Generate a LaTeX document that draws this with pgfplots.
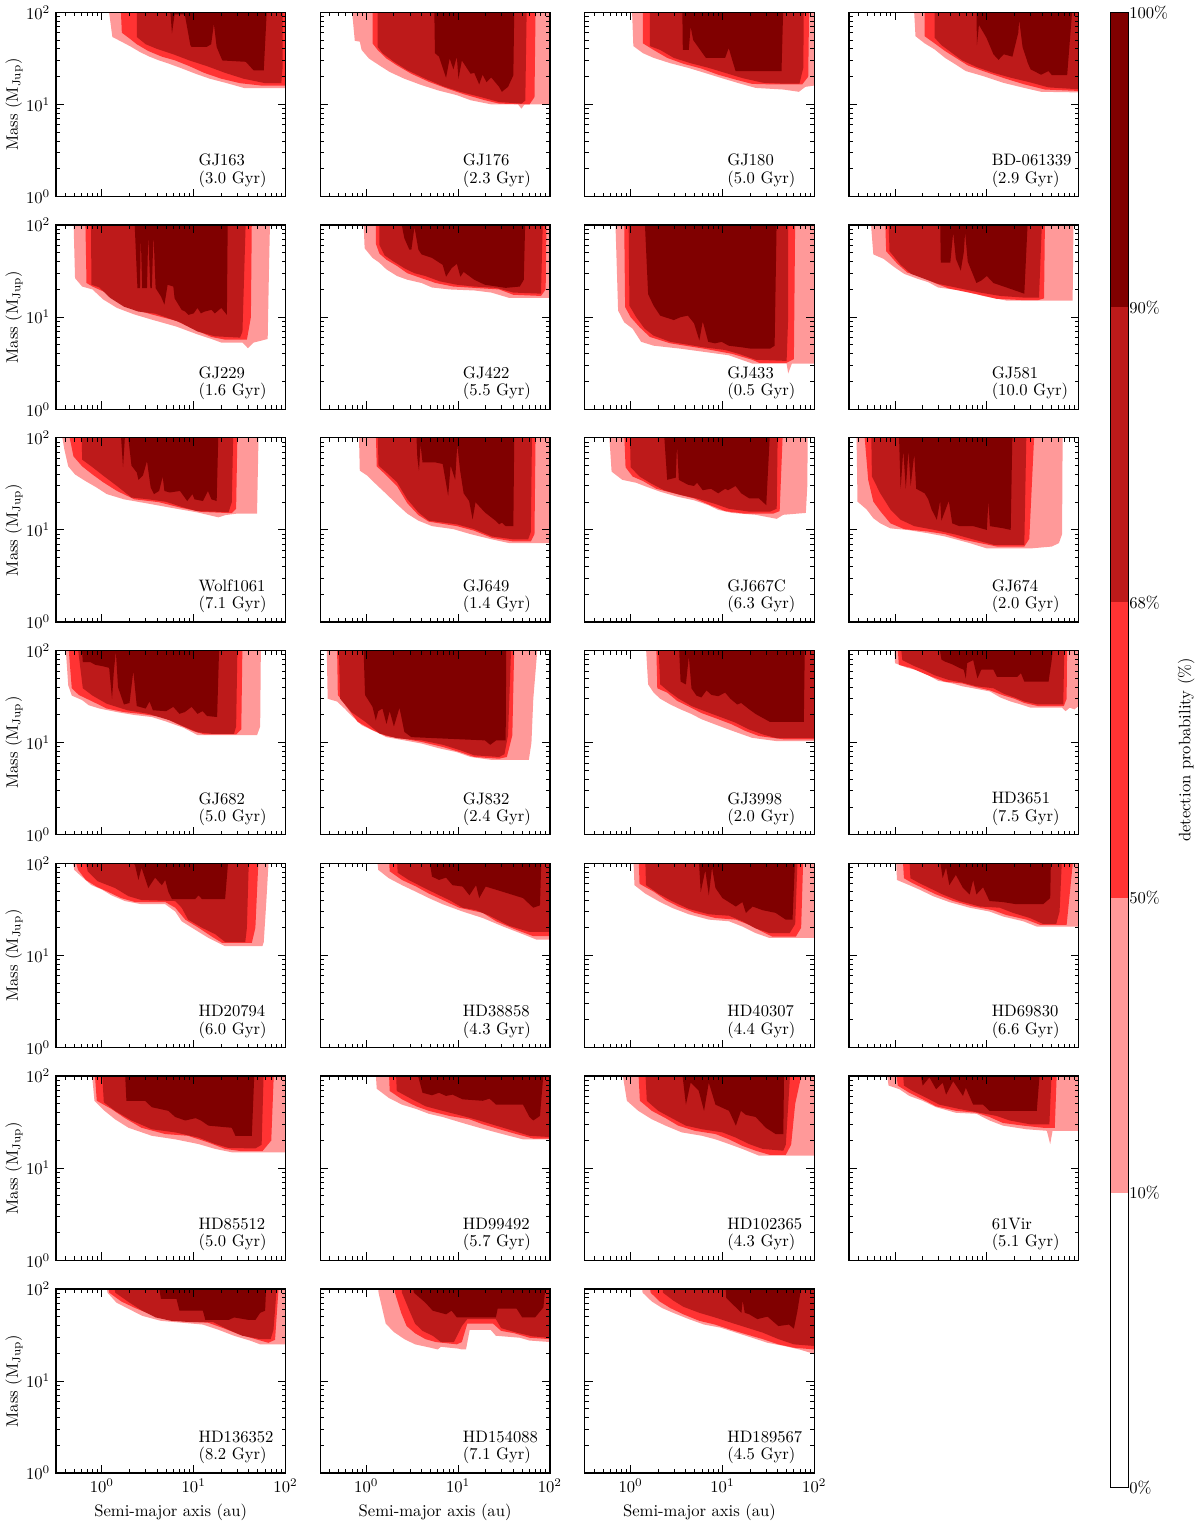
\documentclass[border=0pt]{standalone}
\usepackage{pgfplots}
\pgfplotsset{compat=1.18}
\usepgfplotslibrary{groupplots}
\usetikzlibrary{calc}
\definecolor{lvA}{HTML}{FF9999}
\definecolor{lvB}{HTML}{FF3333}
\definecolor{lvC}{HTML}{BD1A1A}
\definecolor{lvD}{HTML}{800000}

\pgfplotsset{
  fa/.style={fill=lvA, draw=none},
  fb/.style={fill=lvB, draw=none},
  fc/.style={fill=lvC, draw=none},
  fd/.style={fill=lvD, draw=none},
}
% star name and age, lower right of each panel
\newcommand{\lab}[2]{\node[anchor=west, align=left, inner sep=0pt] at (rel axis cs:0.62,0.14) {#1\\[-1.5pt](#2 Gyr)};}

\begin{document}
\begin{tikzpicture}
\begin{groupplot}[
  group style={group name=G, group size=4 by 7, horizontal sep=21pt, vertical sep=17.2pt,
    xticklabels at=edge bottom, yticklabels at=edge left, xlabels at=edge bottom, ylabels at=edge left},
  width=138.3pt, height=111pt, scale only axis,
  xmode=log, ymode=log, xmin=0.316, xmax=100, ymin=1, ymax=100,
  axis on top,
  axis line style={line width=0.8pt},
  major tick length=4.8pt, minor tick length=2.4pt,
  every tick/.style={black, line width=0.6pt},
  xlabel={Semi-major axis (au)}, ylabel={Mass (M$_{\mathrm{Jup}}$)},
  every axis y label/.style={at={(axis description cs:0,0.5)}, xshift=-25.2pt, rotate=90, anchor=center},
]

% ---------------- row 1
\nextgroupplot
\addplot[fa] coordinates {(1.17,120)(1.3,54)(1.7,47)(2.1,42)(2.6,37)(3.3,33)(4.2,30)(5.2,28)(7.5,24.5)(10.5,21.5)(15,19)(23,17)(36,15)(100,15)(100,120)} -- cycle;
\addplot[fb] coordinates {(1.6,120)(1.65,60)(2.0,52)(2.4,45)(3.2,38)(4.5,33)(6.3,30)(9,26)(13,22)(20,19)(32,17)(55,16)(100,16)(100,120)} -- cycle;
\addplot[fc] coordinates {(2.4,120)(2.4,54)(3,45)(4,40)(6,35)(9,30)(14,26)(22,22)(35,19)(60,17)(90,17)(93,25)(93,120)} -- cycle;
\addplot[fd] coordinates {(5.4,120)(5.6,95)(5.8,59)(6.2,95)(8,95)(9.2,44)(9.5,42)(13.8,42)(15.5,45)(16.6,75)(17.8,42)(20.5,30)(37,29)(45,23.4)(58,23.4)(63,120)} -- cycle;
\lab{GJ163}{3.0}

\nextgroupplot
\addplot[fa] coordinates {(0.69,120)(0.75,49)(0.85,48)(0.89,39)(1.07,31.5)(1.39,26.5)(1.8,22.5)(2.6,19)(4,16.2)(6.2,14.1)(9.7,12.6)(13.7,11.1)(23,10)(45,10)(49,9)(53,10)(100,10)(100,120)} -- cycle;
\addplot[fb] coordinates {(1.17,120)(1.17,46)(1.33,39)(1.66,31.5)(2.16,26.5)(3.1,21.5)(4.8,17.6)(7.4,15)(11.5,12.9)(19.6,11.1)(28,10.2)(60,10)(68,12)(70,120)} -- cycle;
\addplot[fc] coordinates {(1.33,120)(1.33,42)(1.5,36)(2,29)(2.8,23.5)(4.4,19)(6.8,15.8)(10.5,13.7)(17.8,12)(28,10.6)(49,10.2)(54,11)(56,120)} -- cycle;
\addplot[fd] coordinates {(5.5,120)(5.6,36)(6.2,33)(7.4,19.5)(8.1,31.5)(8.9,24)(9.7,33)(10.1,19)(11,30)(13.7,21.5)(15,22)(17,16.5)(18.5,21)(20.4,17.5)(23,19.6)(28,15.5)(30,13.7)(35,15.5)(40,20.7)(41,120)} -- cycle;
\lab{GJ176}{2.3}

\nextgroupplot
\addplot[fa] coordinates {(1.03,120)(1.07,43)(1.36,36)(1.78,32)(2.7,28)(4.2,25)(6.4,22)(9.8,19.3)(15,17)(23,15.1)(46,14.5)(68,13.7)(80,15.5)(100,16)(100,120)} -- cycle;
\addplot[fb] coordinates {(1.36,120)(1.36,46)(1.78,39)(2.5,32)(3.8,27.5)(5.9,24.5)(9,21)(13.9,18.6)(21,16.7)(33,16.5)(74,16.5)(86,20)(88,120)} -- cycle;
\addplot[fc] coordinates {(1.62,120)(1.62,43)(2.1,39)(2.95,32)(4.5,28)(7,25)(10.7,22)(16.5,19.3)(27.5,17.2)(46,16.8)(69,16.8)(76,25)(77,120)} -- cycle;
\addplot[fd] coordinates {(3.65,120)(3.7,39)(4.3,39)(4.5,70)(4.8,50)(6.6,32)(10.7,32)(11.7,41)(12.7,31)(13.9,23)(44,23)(46,120)} -- cycle;
\lab{GJ180}{5.0}

\nextgroupplot
\addplot[fa] coordinates {(1.6,120)(1.67,55)(2.1,46)(2.7,39.5)(3.5,32)(4.6,27)(5.9,23)(9.1,20.3)(15.3,17.1)(25.6,15.1)(39,13.7)(100,13.5)(100,120)} -- cycle;
\addplot[fb] coordinates {(2.1,120)(2.1,55)(2.7,46)(3.5,38)(4.6,32)(6.2,26.5)(9.1,23)(15.3,19.3)(25.6,16.5)(43,14.5)(100,14)(100,120)} -- cycle;
\addplot[fc] coordinates {(2.7,120)(2.7,53)(3.2,44)(4.2,36)(5.4,30)(7.7,25.5)(11.8,22)(18.2,19.5)(30,17.3)(47,15.3)(100,14.6)(100,120)} -- cycle;
\addplot[fd] coordinates {(7.7,120)(7.8,44)(8.2,73)(9.9,53)(11.8,35)(13.4,30.5)(15.3,35)(19,33)(22,60)(22.5,83)(24.5,42)(28,28)(30,24)(39,21)(47,23)(51,20.8)(75,20.8)(86,120)} -- cycle;
\lab{BD-061339}{2.9}

% ---------------- row 2
\nextgroupplot
\addplot[fa] coordinates {(0.49,120)(0.51,26.5)(0.61,21.5)(0.79,20)(1.03,15.6)(1.46,12.6)(2.26,10.7)(3.5,9.4)(6.5,7.9)(11,6.5)(15.6,5.8)(20,5.3)(34,5.3)(39,4.6)(45,5.3)(56,5.6)(64,5.8)(66,30)(68,120)} -- cycle;
\addplot[fb] coordinates {(0.66,120)(0.68,23.5)(0.79,21.5)(1.13,18.3)(1.6,14.2)(2.26,12.1)(3.5,10.7)(6.5,9.1)(10,7.4)(15.6,6.1)(22,5.7)(38,5.7)(42,10)(43,120)} -- cycle;
\addplot[fc] coordinates {(0.76,120)(0.77,22.5)(0.94,21)(1.23,16.2)(1.74,13)(2.5,11.5)(3.85,10.9)(7.1,8.8)(11,7)(17,6.2)(32,6.0)(34,7)(37,120)} -- cycle;
\addplot[fd] coordinates {(2.26,120)(2.44,20.7)(2.6,20.7)(2.65,80)(2.75,20.7)(3.1,20.7)(3.2,80)(3.37,20.7)(3.5,20.7)(3.65,80)(3.85,20.7)(4.4,16.8)(4.8,13.7)(5.2,22.5)(6,21.5)(6.2,16)(7.4,12)(8.1,11.5)(8.8,10.6)(10,11)(11,12.6)(12,11)(13.1,11.5)(15.6,12)(17,11)(20,12.6)(23,10.6)(23.5,120)} -- cycle;
\lab{GJ229}{1.6}

\nextgroupplot
\addplot[fa] coordinates {(0.93,120)(0.96,56)(1.07,49)(1.17,44)(1.39,39)(1.66,33)(2.16,28)(2.8,25.5)(4,23.5)(5.2,21)(8.1,20)(15,19.5)(23,18.5)(36,16.2)(100,16.2)(100,120)} -- cycle;
\addplot[fb] coordinates {(1.27,120)(1.27,63)(1.39,49)(1.66,42)(2.16,36)(2.8,30)(4,26.5)(5.7,23.5)(8.9,21.5)(15,20.8)(28,20)(40,17.5)(80,17)(90,20)(92,120)} -- cycle;
\addplot[fc] coordinates {(1.39,120)(1.39,61)(1.58,47)(2,40)(2.6,34)(3.35,30)(4.4,28)(6.3,24.5)(9.7,22.5)(15,21.5)(26,20.8)(40,18.5)(80,18)(84,120)} -- cycle;
\addplot[fd] coordinates {(2.35,120)(2.6,72)(2.95,54)(3.1,54)(3.35,95)(3.7,54)(4,48)(5.2,44)(6.8,37)(7.4,27.5)(8.5,34)(9.7,38)(10.6,27.5)(11.5,31)(15,25.5)(19.6,22.5)(33,20.8)(47,21.5)(52,25.5)(54,120)} -- cycle;
\lab{GJ422}{5.5}

\nextgroupplot
\addplot[fa] coordinates {(0.68,120)(0.73,11.8)(0.85,8.8)(1.05,7.5)(1.3,5.4)(1.78,4.9)(3.5,4.55)(6.3,4.2)(11.7,3.86)(21.3,3.13)(50,3.13)(52,2.45)(57,3.13)(100,3.13)(100,120)} -- cycle;
\addplot[fb] coordinates {(0.85,120)(0.87,12.9)(1,10)(1.25,7.8)(1.62,6.1)(2.7,5.2)(6.3,4.55)(12.7,4)(21,3.45)(25,3.2)(50,3.2)(60,3.5)(62,120)} -- cycle;
\addplot[fc] coordinates {(0.95,120)(0.97,13.3)(1.15,10)(1.42,7.5)(1.78,6.3)(2.7,5.4)(6.3,4.7)(10.7,4.4)(15,4)(23,3.45)(50,3.35)(52,10)(52,120)} -- cycle;
\addplot[fd] coordinates {(1.42,120)(1.55,17.8)(1.78,13.3)(2.1,10.4)(2.95,9.3)(3.5,10)(4.2,10.4)(4.9,8.6)(5.6,5.6)(6.1,9)(7,5.4)(8.3,5.2)(9.8,5.4)(11.7,4.9)(16.5,4.7)(20.4,4.55)(33,4.55)(37,4.9)(39,120)} -- cycle;
\lab{GJ433}{0.5}

\nextgroupplot
\addplot[fa] coordinates {(0.54,120)(0.58,48)(0.75,43)(0.98,35)(1.26,29.5)(1.78,26)(2.3,24)(2.95,21)(5.4,19.4)(9.1,17)(16.6,15.1)(86,15.1)(88,120)} -- cycle;
\addplot[fb] coordinates {(0.78,120)(0.8,52)(1.06,38)(1.36,30.5)(1.93,27.5)(2.7,23.5)(3.85,20.5)(7.7,17.8)(12.9,15.8)(25.6,15.3)(36,15.3)(42,16)(43,120)} -- cycle;
\addplot[fc] coordinates {(0.85,120)(0.87,52)(1.15,37)(1.5,29.5)(2.1,26)(2.95,23)(4.6,21)(8.4,18.5)(14,17)(25.6,16.3)(37,16.3)(40,120)} -- cycle;
\addplot[fd] coordinates {(3.1,120)(3.15,39)(4,39)(4.3,83)(4.6,43)(5.2,32)(5.6,50)(5.8,83)(6.2,40)(7.7,23.5)(8.7,25)(10,28)(11.8,23.5)(15.3,21.5)(25.6,18)(28,120)} -- cycle;
\lab{GJ581}{10.0}

% ---------------- row 3
\nextgroupplot
\addplot[fa] coordinates {(0.36,120)(0.39,75)(0.43,49)(0.51,40)(0.66,34)(0.87,29)(1.13,24.5)(1.74,21.5)(3.5,19)(5.5,17.5)(11,15.5)(18.6,13.7)(22.2,14.5)(29,15)(49,15)(51,120)} -- cycle;
\addplot[fb] coordinates {(0.43,120)(0.49,63)(0.61,49)(0.79,40)(1.03,33)(1.46,26.5)(2.26,21.5)(4.2,20)(7.1,17.5)(12,15.7)(26,15.2)(29,17)(30,120)} -- cycle;
\addplot[fc] coordinates {(0.6,120)(0.61,58)(0.79,48)(1.03,39)(1.46,30)(2.1,22.5)(3.2,21.5)(5,20.2)(7.8,17.5)(11,16)(24,15.6)(26,20)(27,120)} -- cycle;
\addplot[fd] coordinates {(1.6,120)(1.7,48)(1.8,120)(1.9,120)(2.1,50)(2.4,42)(2.5,35)(2.8,39)(3.1,56)(3.4,29)(3.7,24.5)(4.2,26.5)(4.6,38)(4.8,26.5)(5.5,25.5)(7.1,26.5)(8.5,20.6)(9.7,24.5)(10.2,21.5)(12.6,20.6)(14.3,26.5)(15.6,21.5)(17.8,20.6)(18.6,120)} -- cycle;
\lab{Wolf1061}{7.1}

\nextgroupplot
\addplot[fa] coordinates {(0.83,120)(0.85,44)(1.02,39)(1.27,31.5)(1.66,24.5)(2.16,19)(2.8,15)(3.7,12.6)(5.2,11)(8.9,10.2)(13.7,9)(23.4,7.9)(36,7.2)(100,7.2)(100,120)} -- cycle;
\addplot[fb] coordinates {(1.27,120)(1.3,49)(1.66,39)(2.16,30)(2.8,19.5)(3.7,14.5)(4.8,12.3)(9.7,11)(15,9.8)(23.4,8.2)(40,7.5)(62,7.5)(68,9)(70,120)} -- cycle;
\addplot[fc] coordinates {(1.33,120)(1.36,50)(1.66,42)(2.16,33)(2.8,21.5)(3.7,15.5)(4.8,12.6)(9.7,11.5)(15,10.2)(23.4,8.5)(40,7.9)(58,7.9)(62,9.5)(64,120)} -- cycle;
\addplot[fd] coordinates {(3.5,120)(3.6,61)(3.75,44)(3.9,85)(4.1,54)(5.7,54)(6.8,52)(7.8,23.5)(8.3,50)(9.3,35)(9.8,85)(10.5,45)(11.5,25)(13.2,20.6)(14.4,13)(15.5,20)(19.6,15.5)(25.6,12.6)(28,11.5)(30,12)(33,11)(40,11)(41,120)} -- cycle;
\lab{GJ649}{1.4}

\nextgroupplot
\addplot[fa] coordinates {(0.58,120)(0.62,43)(0.81,35)(1.15,32.5)(1.48,29.5)(2.1,26)(3.2,23)(4.9,21)(7,18.6)(9,16.5)(12.7,15.3)(23,14.6)(39,13.2)(46,14.6)(81,15.3)(84,30)(85,120)} -- cycle;
\addplot[fb] coordinates {(0.85,120)(0.88,48)(1.05,38)(1.36,34)(1.9,28)(2.95,25)(4.9,22)(7.6,18.3)(10.7,16)(17.8,15)(35.5,15)(42,16)(45.5,120)} -- cycle;
\addplot[fc] coordinates {(0.98,120)(1.0,48)(1.25,38)(1.62,32.5)(2.3,27)(3.5,24)(5.4,21.8)(8.3,19.2)(11.7,17)(19.6,15.8)(33,15.8)(39,17)(40,120)} -- cycle;
\addplot[fd] coordinates {(2.3,120)(2.5,35)(2.8,36)(3.1,37)(3.2,83)(3.35,35)(4.2,31)(4.9,30)(5.3,32.5)(6.1,27)(7.5,28)(9,25)(10.7,28)(11.5,27)(13.9,30)(16,25)(19.6,22)(25,22)(30,18.6)(33,120)} -- cycle;
\lab{GJ667C}{6.3}

\nextgroupplot
\addplot[fa] coordinates {(0.38,120)(0.39,20.3)(0.49,16.7)(0.58,13.4)(0.69,11.8)(0.89,10.4)(1.36,10)(2.3,9.2)(3.5,8.5)(4.6,7.9)(6.5,7.2)(10,6.3)(30,6.3)(51,6.6)(61,7.2)(66,9)(67,120)} -- cycle;
\addplot[fb] coordinates {(0.46,120)(0.51,35)(0.58,20.3)(0.69,16)(0.89,11.8)(1.26,10.2)(2.3,9.6)(3.5,9)(5.4,7.9)(8.4,7.2)(12.9,6.6)(25.6,6.6)(29,8)(33,120)} -- cycle;
\addplot[fc] coordinates {(0.55,120)(0.56,38)(0.69,25)(0.89,16.7)(1.15,12.9)(1.62,11)(2.7,10)(4.6,8.9)(7.1,7.9)(11.8,6.9)(25.6,6.9)(27,120)} -- cycle;
\addplot[fd] coordinates {(1.1,120)(1.15,28)(1.23,73)(1.31,28)(1.4,73)(1.48,30)(1.62,67)(1.7,28)(2.1,25)(2.3,21.5)(2.5,16.7)(2.85,12.9)(3.1,20.7)(3.2,12.6)(3.85,20.7)(4.2,11.8)(5,11)(7.1,11)(10,10)(10.4,20.7)(10.8,11)(15.3,10.4)(18.2,10)(19,120)} -- cycle;
\lab{GJ674}{2.0}

% ---------------- row 4
\nextgroupplot
\addplot[fa] coordinates {(0.4,120)(0.43,42)(0.47,32.5)(0.61,29)(0.72,25.5)(0.94,23.5)(1.46,21.5)(2.26,20)(3.5,19)(5,17)(7.8,14.5)(11,12.1)(49,12.1)(53,15)(54,120)} -- cycle;
\addplot[fb] coordinates {(0.43,120)(0.47,39)(0.56,33)(0.79,28)(1.13,23.5)(1.74,21.5)(2.6,20.6)(4.6,19)(7.1,15.5)(10,13.3)(13.1,12.3)(29,12.3)(33,14)(34,120)} -- cycle;
\addplot[fc] coordinates {(0.54,120)(0.62,39)(0.79,32.5)(1.13,26.5)(1.9,22.5)(3.2,20.6)(5.5,17.5)(7.8,15)(11,13)(15.6,12.5)(27.5,12.5)(29,15)(30,120)} -- cycle;
\addplot[fd] coordinates {(0.6,120)(0.62,75)(0.75,75)(0.85,70)(1.0,68)(1.2,65)(1.29,30)(1.35,60)(1.42,98)(1.5,40)(1.74,26)(2.0,27)(2.2,60)(2.4,25)(3.0,23.5)(3.3,28)(3.6,22.5)(5,22)(6,24.5)(7,20.6)(8,21.5)(9.5,24.5)(11,20.6)(12.5,22)(14,19.5)(18,19)(19,120)} -- cycle;
\lab{GJ682}{5.0}

\nextgroupplot
\addplot[fa] coordinates {(0.37,120)(0.38,30)(0.48,28)(0.58,23.5)(0.69,19.7)(0.89,15.5)(1.27,13.1)(1.66,11.5)(2.6,10.6)(4,9.8)(6.2,8.7)(9.7,7.9)(13.7,7)(23.4,6.5)(59,6.5)(63,10)(66,30)(74,120)} -- cycle;
\addplot[fb] coordinates {(0.48,120)(0.49,33)(0.63,23.5)(0.81,16.8)(1.17,13.7)(1.66,11.8)(2.6,11)(4,10.2)(6.8,9)(10.5,7.9)(15,7)(28,6.7)(34,7)(39,12)(41,120)} -- cycle;
\addplot[fc] coordinates {(0.5,120)(0.52,30)(0.69,21.5)(0.98,16.8)(1.39,12.6)(2.16,11.2)(4,10.6)(6.8,9.5)(10.5,8.3)(15,7.3)(28,7)(32,7.5)(35,12)(38,120)} -- cycle;
\addplot[fd] coordinates {(0.93,120)(0.97,33)(1.17,24.5)(1.27,17.5)(1.35,22)(1.5,23.5)(1.66,16)(1.8,22)(2,15)(2.3,24)(2.6,13.1)(3.1,11.5)(19.6,10.6)(22.4,9.5)(26,10.6)(33,10.6)(33.5,120)} -- cycle;
\lab{GJ832}{2.4}

\nextgroupplot
\addplot[fa] coordinates {(1.46,120)(1.55,43)(1.78,35)(2.1,30)(2.7,26)(3.5,23)(4.6,20.5)(5.9,18)(8.3,15.8)(11.7,13.9)(16.5,12.3)(21,11.3)(39,10.4)(100,10.4)(100,120)} -- cycle;
\addplot[fb] coordinates {(1.9,120)(1.95,39)(2.5,35)(3.2,28.5)(4.2,25)(5.9,21)(9,18)(12.7,15.8)(17.8,13.4)(25,11.8)(46,10.9)(100,10.9)(100,120)} -- cycle;
\addplot[fc] coordinates {(2,120)(2.1,43)(2.6,36)(3.35,30)(4.6,25)(6.4,22)(9.8,18.8)(13.9,16.5)(19.6,13.9)(27.5,12.3)(39,11.2)(100,11.2)(100,120)} -- cycle;
\addplot[fd] coordinates {(3.35,120)(3.5,46)(4,43)(4.3,87)(4.6,39)(5.2,32.5)(5.9,31)(6.7,37)(7.6,33)(9,32)(10.7,35)(12.2,30)(14.5,26)(16,27)(19.6,23)(23,20.5)(33,16.8)(77,16.8)(79,120)} -- cycle;
\lab{GJ3998}{2.0}

\nextgroupplot
\addplot[fa] coordinates {(0.98,120)(1.0,73)(1.36,65)(1.78,61)(2.3,54)(2.95,47)(4.2,44)(5.4,41)(7.1,39)(10.8,36)(14,31)(18.2,28)(23.5,26)(30,24)(66,24)(72,22)(80,24)(90,23)(100,25)(100,120)} -- cycle;
\addplot[fb] coordinates {(1.06,120)(1.1,70)(1.48,65)(1.93,58)(2.5,52)(3.5,46)(5.4,44)(7.7,40)(10.8,37)(15.3,32.5)(20,30)(25.6,27)(36,25)(69,25)(74,30)(75,120)} -- cycle;
\addplot[fc] coordinates {(1.15,120)(1.2,79)(1.62,68)(2.1,61)(2.7,54)(3.85,48)(5.4,45)(7.7,41)(11.8,39)(15.3,34)(20,31)(25.6,28)(36,26)(68,26)(70,120)} -- cycle;
\addplot[fd] coordinates {(3,120)(3.2,80)(3.5,76)(4.2,71)(5,65)(5.6,62)(5.9,50)(6.1,73)(7.1,79)(7.9,50)(8.7,62)(11.8,62)(12.9,52)(21.5,52)(23.5,57)(25.6,46)(47,46)(51,80)(53,120)} -- cycle;
\lab{HD3651}{7.5}

% ---------------- row 5
\nextgroupplot
\addplot[fa] coordinates {(0.47,120)(0.5,85)(0.6,72)(0.77,58)(1,52)(1.27,45)(1.78,39)(2.7,36)(4.9,36)(6.3,30)(7.4,23.5)(10.4,19)(14.5,15.5)(22,12.6)(56,12.6)(58,14)(62,40)(66,120)} -- cycle;
\addplot[fb] coordinates {(0.5,120)(0.55,85)(0.67,66)(0.87,56)(1.17,49)(1.62,42)(2.3,38)(4.9,38)(6.3,33)(8.1,24.5)(11.3,20)(15.8,16)(20.4,13.7)(43,13.7)(47,20)(51,120)} -- cycle;
\addplot[fc] coordinates {(0.65,120)(0.7,82)(0.9,64)(1.39,54)(1.95,44)(2.7,40)(6.3,39)(7.4,33)(8.7,24.5)(12.3,20)(17.2,17)(22,14)(36.5,14)(38,20)(40,120)} -- cycle;
\addplot[fd] coordinates {(2,120)(2.3,95)(2.5,66)(2.7,90)(3.2,54)(3.8,70)(4.5,58)(4.9,66)(5.3,49)(5.8,41)(10.4,41)(11.3,45)(12.3,41)(22,41)(24,120)} -- cycle;
\lab{HD20794}{6.0}

\nextgroupplot
\addplot[fa] coordinates {(1.3,120)(1.35,85)(1.76,69)(2.45,58)(3.5,49)(4.8,42)(6.8,36)(11.2,30)(18.6,25.5)(31,20.6)(51,17)(71,14.9)(100,14.9)(100,120)} -- cycle;
\addplot[fb] coordinates {(1.76,120)(1.8,82)(2.45,66)(3.5,56)(4.8,47)(6.8,40)(10.3,33)(18.6,29)(26,23.5)(43,19)(66,16.2)(100,16.2)(100,120)} -- cycle;
\addplot[fc] coordinates {(2.15,120)(2.2,79)(2.9,66)(4,56)(5.7,47)(8,40)(11.2,33)(15.7,31)(22,27)(36,21)(60,18)(100,18)(100,120)} -- cycle;
\addplot[fd] coordinates {(4.8,120)(5.2,72)(6.2,66)(7.4,70)(8.7,58)(11.2,56)(13.3,45)(15.7,58)(17,42)(20,56)(31,49)(51,42)(66,33)(78,35)(81,120)} -- cycle;
\lab{HD38858}{4.3}

\nextgroupplot
\addplot[fa] coordinates {(1.07,120)(1.1,58)(1.44,47)(2,39)(2.8,33)(4.3,28)(7.1,24.5)(11.8,23.5)(16.5,20.6)(23,17.5)(32.5,15.5)(100,15.5)(100,120)} -- cycle;
\addplot[fb] coordinates {(1.22,120)(1.25,60)(1.8,49)(2.4,40)(3.3,34)(5,29)(8.4,25.5)(14,24.5)(19.5,21.5)(27.5,18)(35,16)(63,16)(72,20)(76,120)} -- cycle;
\addplot[fc] coordinates {(1.44,120)(1.47,58)(2,47)(2.8,39)(4.3,32)(7.1,28)(11.8,27)(16.5,23.5)(23,19.7)(32.5,17.5)(54,17.5)(62,22)(66,120)} -- cycle;
\addplot[fd] coordinates {(5.5,120)(5.8,49)(6.5,84)(7.1,45)(7.7,90)(8.4,54)(10,42)(14,34)(16.5,38)(18,29)(21.3,34)(27.5,31)(38,29)(49,24.5)(58,24.5)(62,120)} -- cycle;
\lab{HD40307}{4.4}

\nextgroupplot
\addplot[fa] coordinates {(1.02,120)(1.05,66)(1.43,58)(1.84,52)(2.6,44)(3.9,38)(6.5,33)(10.7,30)(15,26.5)(25,23.5)(35,20.6)(100,20.6)(100,120)} -- cycle;
\addplot[fb] coordinates {(1.21,120)(1.25,69)(1.55,61)(2,54)(2.8,46)(4.3,39)(7.1,34)(11.7,31)(16.3,27.5)(27,24.5)(38,21.5)(74,21.5)(88,120)} -- cycle;
\addplot[fc] coordinates {(1.43,120)(1.47,69)(1.84,61)(2.37,54)(3.3,46)(5,39)(8.4,34)(13.8,33)(19.3,29)(29.5,25.5)(41,22)(57,22)(62,30)(66,120)} -- cycle;
\addplot[fd] coordinates {(3.05,120)(3.3,69)(3.6,90)(3.9,58)(4.6,75)(5.5,54)(6.5,46)(7.1,66)(7.7,46)(9.1,55)(10.7,39)(15,38)(21,36)(41,36)(49,42)(50,120)} -- cycle;
\lab{HD69830}{6.6}

% ---------------- row 6
\nextgroupplot
\addplot[fa] coordinates {(0.77,120)(0.83,54)(1.07,42)(1.39,34)(1.95,27.5)(3.5,22.5)(6.3,20.6)(11.3,18.3)(17.2,16.2)(26,14.9)(100,14.9)(100,120)} -- cycle;
\addplot[fb] coordinates {(0.83,120)(0.88,54)(1.27,44)(1.78,35)(2.7,27.5)(4.9,23.5)(8.7,22.5)(14.5,19)(22,16.2)(33.5,15.3)(56,15.3)(70,20)(75,120)} -- cycle;
\addplot[fc] coordinates {(1,120)(1.05,52)(1.39,42)(2.1,33)(3.5,26.5)(6.3,24.5)(11.3,21.5)(17.2,18.3)(24,16.6)(47,16.4)(55,18)(58,120)} -- cycle;
\addplot[fd] coordinates {(1.78,120)(1.85,54)(2.95,54)(3.5,46)(5.3,42)(6.3,36)(8.1,33)(10.5,35)(12,33)(14.5,29)(26,27.5)(28.5,22.5)(43,22.5)(46,120)} -- cycle;
\lab{HD85512}{5.0}

\nextgroupplot
\addplot[fa] coordinates {(1.26,120)(1.3,73)(1.76,58)(2.45,49)(3.5,44)(4.8,39)(6.8,36)(11.2,31)(17,27.5)(26,24.5)(36,22.5)(51,20.6)(100,20.6)(100,120)} -- cycle;
\addplot[fb] coordinates {(1.76,120)(1.8,69)(2.45,56)(3.5,47)(4.8,42)(8,37)(13.3,34)(18.6,30)(28.2,26.5)(43,23.5)(66,21)(100,21)(100,120)} -- cycle;
\addplot[fc] coordinates {(2.1,120)(2.15,69)(3.16,56)(4.45,47)(6.8,42)(11.2,37)(17,33)(26,29)(40,25.5)(60,22.5)(100,21.8)(100,120)} -- cycle;
\addplot[fd] coordinates {(3.5,120)(4.1,66)(5.2,62)(6.2,66)(7.4,61)(8.7,63)(11.2,56)(18.6,54)(22,57)(26,49)(51,49)(60,36)(66,33)(78,37)(86,120)} -- cycle;
\lab{HD99492}{5.7}

\nextgroupplot
\addplot[fa] coordinates {(0.8,120)(0.91,54)(1.21,42)(1.7,34)(2.4,29)(3.6,24.5)(6,22.5)(8.4,20.6)(11.8,18.3)(16.5,16.2)(25,13.7)(100,13.7)(100,120)} -- cycle;
\addplot[fb] coordinates {(1.21,120)(1.26,54)(1.7,42)(2.4,35)(3.3,29)(5,25.5)(8.4,23.5)(11.8,20.6)(16.5,17.5)(23,15.5)(32.5,14)(49,14)(56,18)(62,50)(75,120)} -- cycle;
\addplot[fc] coordinates {(1.44,120)(1.5,54)(2,42)(2.8,35)(4,29)(6,26.5)(10,24.5)(14,21.5)(19.5,18.3)(27.5,16.2)(46,15.5)(49,18)(55,120)} -- cycle;
\addplot[fd] coordinates {(3.6,120)(4,49)(4.5,85)(5.5,70)(6.3,42)(7.1,85)(8.4,49)(11.8,42)(14,29)(15.9,42)(18,38)(23,36)(29.7,27.5)(38,23.5)(46,23.5)(47,120)} -- cycle;
\lab{HD102365}{4.3}

\nextgroupplot
\addplot[fa] coordinates {(0.8,120)(0.85,79)(1.12,72)(1.43,61)(2,54)(2.8,46)(4.6,40)(7.7,39)(10.7,33)(15,29)(27,26.5)(45,25.5)(49,18.3)(52,25.5)(100,25.5)(100,120)} -- cycle;
\addplot[fb] coordinates {(1.02,120)(1.07,79)(1.43,66)(2,56)(2.8,47)(4.6,42)(7.7,40)(10.7,36)(15,31)(25,29)(41,27.5)(55,27.5)(58,120)} -- cycle;
\addplot[fc] coordinates {(1.21,120)(1.25,79)(1.55,69)(2.2,58)(3.05,49)(5,44)(8.4,40)(12.7,37)(17.8,33)(29.5,30)(48,30)(51,120)} -- cycle;
\addplot[fd] coordinates {(1.84,120)(2,79)(2.37,97)(2.8,72)(3.3,85)(3.6,63)(4.3,88)(5.5,61)(5.9,75)(7.1,49)(9.1,49)(10.7,42)(35,42)(38,120)} -- cycle;
\lab{61Vir}{5.1}

% ---------------- row 7
\nextgroupplot
\addplot[fa] coordinates {(1.1,120)(1.15,91)(1.44,71)(2,60)(2.75,51)(4.4,45)(7.4,43)(12.6,41)(18.6,36)(27.5,31)(41,27.5)(53,25)(100,25)(100,120)} -- cycle;
\addplot[fb] coordinates {(1.15,120)(1.2,91)(1.63,73)(2.3,62)(3.4,53)(5,47)(8.5,44)(14.3,43)(21,37.5)(31.5,32)(47,28.5)(65,26)(77,28)(85,120)} -- cycle;
\addplot[fc] coordinates {(1.34,120)(1.4,91)(2,71)(2.75,58)(3.85,49)(5.7,45)(9.7,43.5)(16.3,43.5)(24,36)(34,31)(53,28.5)(69,28.5)(74,36)(78,70)(81,120)} -- cycle;
\addplot[fd] coordinates {(4.1,120)(4.4,78)(6.5,78)(7,58)(12.6,58)(13.4,46)(24,46)(27.5,49)(40,46)(47,46)(53,55)(60,58)(62,120)} -- cycle;
\lab{HD136352}{8.2}

\nextgroupplot
\addplot[fa] coordinates {(1.34,120)(1.36,91)(1.53,55)(1.63,42)(2,34)(2.6,28.5)(3.4,25)(5,23)(6,22)(6.5,23.5)(10,22.5)(11,22)(12.2,22)(13.4,36)(22.6,36)(25.8,31)(47,29.5)(60,27.5)(100,26.5)(100,120)} -- cycle;
\addplot[fb] coordinates {(2,120)(2.05,91)(2.4,55)(2.75,39.5)(3.4,33)(4.4,28.5)(5.7,26.5)(9.7,25)(11,26.5)(12.6,42)(24,42)(29.5,35)(41,33)(60,29.5)(100,28.5)(100,120)} -- cycle;
\addplot[fc] coordinates {(2.4,120)(2.45,91)(2.95,58)(3.4,42)(4.1,35)(5.3,31)(6.5,26.5)(9,26.5)(11,39.5)(12.6,47)(25.8,47)(29.5,37.5)(43.5,33.5)(65,30.5)(100,29.5)(100,120)} -- cycle;
\addplot[fd] coordinates {(3.16,120)(3.3,91)(4.4,71)(5.3,58)(7.4,53)(8.5,58)(9.7,49)(25.8,49)(27,61)(43.5,61)(50,49)(69,49)(85,63)(91,120)} -- cycle;
\lab{HD154088}{7.1}

\nextgroupplot
\addplot[fa] coordinates {(1.3,120)(1.35,91)(1.7,73)(2.2,62)(2.9,55)(4.3,47)(6.3,41)(9.5,38)(14.1,33.5)(21,29.5)(31,26)(47,24)(69,22)(95,20)(100,19.5)(100,120)} -- cycle;
\addplot[fb] coordinates {(1.6,120)(1.65,91)(2.07,73)(2.7,62)(3.75,53)(5.6,45)(8.3,41)(12.4,36)(18.4,32)(27.5,28.5)(40.7,25)(60,23)(100,22)(100,120)} -- cycle;
\addplot[fc] coordinates {(2.2,120)(2.25,91)(2.9,75)(3.75,64)(5.6,55)(8.3,49)(12.4,43)(18.4,38)(27.5,33.5)(40.7,28.5)(60,25)(100,24)(100,120)} -- cycle;
\addplot[fd] coordinates {(10.8,120)(11,80)(12.4,71)(16.1,55)(16.6,75)(17.5,55)(19.6,53)(24,47)(31,50)(40.7,39.5)(53,41)(60,37)(65,55)(74,120)} -- cycle;
\lab{HD189567}{4.5}
\end{groupplot}

% ---------------- colour bar
\begin{axis}[
  at={($(G c4r1.north east)+(19.2pt,0)$)}, anchor=north west,
  width=10.8pt, height=889pt, scale only axis,
  xmin=0, xmax=1, ymin=0, ymax=5,
  xtick=\empty, ytick={0,1,2,3,4,5},
  yticklabels={0\%,10\%,50\%,68\%,90\%,100\%},
  yticklabel pos=right,
  yticklabel style={xshift=-3pt},
  major tick length=0pt,
  axis on top, axis line style={line width=0.8pt},
  ylabel={detection probability (\%)},
  every axis y label/.style={at={(axis description cs:1,0.5)}, xshift=34.8pt, rotate=90, anchor=center},
]
\addplot[fa] coordinates {(0,1)(1,1)(1,2)(0,2)} -- cycle;
\addplot[fb] coordinates {(0,2)(1,2)(1,3)(0,3)} -- cycle;
\addplot[fc] coordinates {(0,3)(1,3)(1,4)(0,4)} -- cycle;
\addplot[fd] coordinates {(0,4)(1,4)(1,5)(0,5)} -- cycle;
\end{axis}
\end{tikzpicture}
\end{document}
